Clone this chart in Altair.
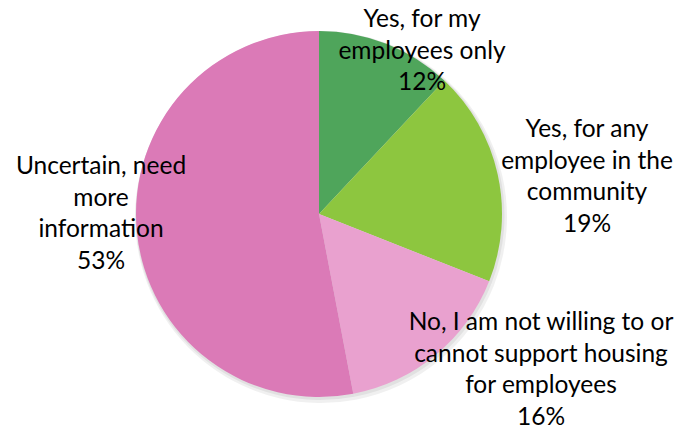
import altair as alt
import pandas as pd

categories = [
    "Yes, for my employees only",
    "Yes, for any employee in the community",
    "No, I am not willing to or cannot support housing for employees",
    "Uncertain, need more information",
]
label_lines = [
    "Yes, for my\nemployees only\n12%",
    "Yes, for any\nemployee in the\ncommunity\n19%",
    "No, I am not willing to or\ncannot support housing\nfor employees\n16%",
    "Uncertain, need\nmore\ninformation\n53%",
]
values = [12, 19, 16, 53]
colors = ["#4fa55b", "#8dc63f", "#e9a1cf", "#db7ab7"]

# label anchor positions (layout only, chart pixel coords of first line)
label_x = [414, 579, 533, 93]
label_y = [12, 122, 315, 159]

W, H = 667, 421
CX, CY, R = 311, 206, 183

df = pd.DataFrame({"cat": categories, "value": values, "order": list(range(4)),
                   "label": label_lines, "lx": label_x, "ly": label_y})

base = alt.Chart(df)

shadow = base.mark_arc(radius=R + 3, color="#000000", opacity=0.06).encode(
    theta=alt.Theta("value:Q", stack=True),
    order="order:Q",
    x=alt.value(CX + 2), y=alt.value(CY + 3),
)
shadow2 = base.mark_arc(radius=R + 1.5, color="#000000", opacity=0.06).encode(
    theta=alt.Theta("value:Q", stack=True),
    order="order:Q",
    x=alt.value(CX + 1), y=alt.value(CY + 1.5),
)

pie = base.mark_arc(radius=R).encode(
    theta=alt.Theta("value:Q", stack=True),
    order="order:Q",
    color=alt.Color("cat:N", scale=alt.Scale(domain=categories, range=colors), legend=None),
    x=alt.value(CX), y=alt.value(CY),
)

xs = alt.Scale(domain=[0, W], range=[0, W])
ys = alt.Scale(domain=[0, H], range=[0, H])
text = base.mark_text(font="Lato", fontSize=24.5, lineHeight=31.5, lineBreak="\n",
                      align="center", baseline="middle", color="#000000").encode(
    x=alt.X("lx:Q", scale=xs, axis=None),
    y=alt.Y("ly:Q", scale=ys, axis=None),
    text="label:N",
)

chart = alt.layer(shadow, shadow2, pie, text).properties(
    width=W, height=H, autosize=alt.AutoSizeParams(type="none"), padding=0
).configure_view(stroke=None)

chart.save("out.html", embed_options={"renderer": "svg", "actions": False})
